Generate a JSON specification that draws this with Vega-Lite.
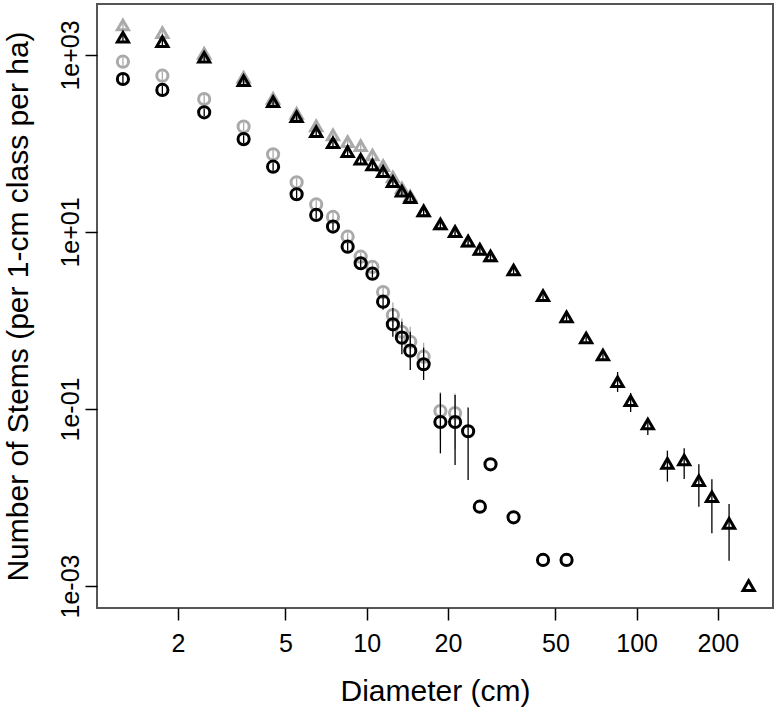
{
  "$schema": "https://vega.github.io/schema/vega-lite/v6.json",
  "width": 676,
  "height": 604,
  "autosize": {"type": "none"},
  "padding": {"left": 97, "top": 4, "right": 5, "bottom": 102},
  "background": "white",
  "config": {
    "view": {"stroke": "#555555", "strokeWidth": 2},
    "font": "Liberation Sans"
  },
  "datasets": {
    "stems": [
      {"d": 1.25, "n": 2183, "lo": 1970, "hi": 2420, "s": "gt"},
      {"d": 1.75, "n": 1786, "lo": 1610, "hi": 1980, "s": "gt"},
      {"d": 2.5, "n": 1045, "lo": 943, "hi": 1158, "s": "gt"},
      {"d": 3.5, "n": 560, "lo": 505, "hi": 620, "s": "gt"},
      {"d": 4.5, "n": 324, "lo": 292, "hi": 359, "s": "gt"},
      {"d": 5.5, "n": 219, "lo": 198, "hi": 243, "s": "gt"},
      {"d": 6.5, "n": 158, "lo": 143, "hi": 175, "s": "gt"},
      {"d": 7.5, "n": 125, "lo": 113, "hi": 139, "s": "gt"},
      {"d": 8.5, "n": 105, "lo": 95, "hi": 116, "s": "gt"},
      {"d": 9.5, "n": 94.4, "lo": 85.2, "hi": 104.6, "s": "gt"},
      {"d": 10.5, "n": 74.1, "lo": 66.9, "hi": 82.1, "s": "gt"},
      {"d": 11.5, "n": 56.1, "lo": 50.6, "hi": 62.2, "s": "gt"},
      {"d": 12.5, "n": 41.8, "lo": 37.7, "hi": 46.3, "s": "gt"},
      {"d": 13.5, "n": 31.4, "lo": 28.3, "hi": 34.8, "s": "gt"},
      {"d": 14.5, "n": 25.5, "lo": 23.0, "hi": 28.3, "s": "gt"},
      {"d": 16.25, "n": 17.3, "lo": 15.6, "hi": 19.2, "s": "gt"},
      {"d": 18.75, "n": 12.3, "lo": 11.1, "hi": 13.6, "s": "gt"},
      {"d": 21.25, "n": 10.1, "lo": 9.1, "hi": 11.2, "s": "gt"},
      {"d": 23.75, "n": 7.9, "lo": 7.1, "hi": 8.8, "s": "gt"},
      {"d": 26.25, "n": 6.37, "lo": 5.7, "hi": 7.1, "s": "gt"},
      {"d": 28.75, "n": 5.35, "lo": 4.8, "hi": 5.9, "s": "gt"},

      {"d": 1.25, "n": 1585, "lo": 1430, "hi": 1750, "s": "bt"},
      {"d": 1.75, "n": 1413, "lo": 1275, "hi": 1565, "s": "bt"},
      {"d": 2.5, "n": 942, "lo": 850, "hi": 1045, "s": "bt"},
      {"d": 3.5, "n": 513, "lo": 463, "hi": 568, "s": "bt"},
      {"d": 4.5, "n": 297, "lo": 268, "hi": 329, "s": "bt"},
      {"d": 5.5, "n": 201, "lo": 181, "hi": 223, "s": "bt"},
      {"d": 6.5, "n": 136, "lo": 123, "hi": 151, "s": "bt"},
      {"d": 7.5, "n": 102, "lo": 92, "hi": 113, "s": "bt"},
      {"d": 8.5, "n": 80.8, "lo": 72.9, "hi": 89.5, "s": "bt"},
      {"d": 9.5, "n": 66.3, "lo": 59.8, "hi": 73.5, "s": "bt"},
      {"d": 10.5, "n": 57.1, "lo": 51.5, "hi": 63.3, "s": "bt"},
      {"d": 11.5, "n": 48.0, "lo": 43.3, "hi": 53.2, "s": "bt"},
      {"d": 12.5, "n": 37.0, "lo": 33.4, "hi": 41.0, "s": "bt"},
      {"d": 13.5, "n": 29.0, "lo": 26.2, "hi": 32.1, "s": "bt"},
      {"d": 14.5, "n": 24.4, "lo": 22.0, "hi": 27.0, "s": "bt"},
      {"d": 16.25, "n": 17.3, "lo": 15.6, "hi": 19.2, "s": "bt"},
      {"d": 18.75, "n": 12.3, "lo": 11.1, "hi": 13.6, "s": "bt"},
      {"d": 21.25, "n": 10.1, "lo": 9.1, "hi": 11.2, "s": "bt"},
      {"d": 23.75, "n": 7.9, "lo": 7.1, "hi": 8.8, "s": "bt"},
      {"d": 26.25, "n": 6.37, "lo": 5.7, "hi": 7.1, "s": "bt"},
      {"d": 28.75, "n": 5.35, "lo": 4.8, "hi": 5.9, "s": "bt"},
      {"d": 35, "n": 3.72, "lo": 3.36, "hi": 4.12, "s": "bt"},
      {"d": 45, "n": 1.91, "lo": 1.72, "hi": 2.12, "s": "bt"},
      {"d": 55, "n": 1.10, "lo": 0.99, "hi": 1.22, "s": "bt"},
      {"d": 65, "n": 0.634, "lo": 0.57, "hi": 0.70, "s": "bt"},
      {"d": 75, "n": 0.407, "lo": 0.36, "hi": 0.45, "s": "bt"},
      {"d": 85, "n": 0.203, "lo": 0.156, "hi": 0.262, "s": "bt"},
      {"d": 95, "n": 0.124, "lo": 0.0925, "hi": 0.152, "s": "bt"},
      {"d": 110, "n": 0.0677, "lo": 0.0508, "hi": 0.079, "s": "bt"},
      {"d": 130, "n": 0.0243, "lo": 0.0151, "hi": 0.0338, "s": "bt"},
      {"d": 150, "n": 0.0265, "lo": 0.0162, "hi": 0.036, "s": "bt"},
      {"d": 170, "n": 0.0155, "lo": 0.00787, "hi": 0.0237, "s": "bt"},
      {"d": 190, "n": 0.0102, "lo": 0.00394, "hi": 0.0161, "s": "bt"},
      {"d": 220, "n": 0.0051, "lo": 0.00193, "hi": 0.00845, "s": "bt"},
      {"d": 260, "n": 0.00101, "lo": null, "hi": null, "s": "bt"},

      {"d": 1.25, "n": 840, "lo": 758, "hi": 931, "s": "gc"},
      {"d": 1.75, "n": 584, "lo": 527, "hi": 647, "s": "gc"},
      {"d": 2.5, "n": 318, "lo": 287, "hi": 352, "s": "gc"},
      {"d": 3.5, "n": 155, "lo": 140, "hi": 172, "s": "gc"},
      {"d": 4.5, "n": 75.5, "lo": 68.1, "hi": 83.7, "s": "gc"},
      {"d": 5.5, "n": 36.4, "lo": 32.8, "hi": 40.3, "s": "gc"},
      {"d": 6.5, "n": 20.5, "lo": 18.5, "hi": 22.7, "s": "gc"},
      {"d": 7.5, "n": 14.8, "lo": 13.4, "hi": 16.4, "s": "gc"},
      {"d": 8.5, "n": 8.85, "lo": 7.98, "hi": 9.81, "s": "gc"},
      {"d": 9.5, "n": 5.26, "lo": 4.75, "hi": 5.83, "s": "gc"},
      {"d": 10.5, "n": 4.03, "lo": 3.64, "hi": 4.47, "s": "gc"},
      {"d": 11.5, "n": 2.10, "lo": 1.75, "hi": 2.45, "s": "gc"},
      {"d": 12.5, "n": 1.15, "lo": 0.85, "hi": 1.6, "s": "gc"},
      {"d": 13.5, "n": 0.746, "lo": 0.5, "hi": 1.05, "s": "gc"},
      {"d": 14.5, "n": 0.575, "lo": 0.36, "hi": 0.85, "s": "gc"},
      {"d": 16.25, "n": 0.390, "lo": 0.27, "hi": 0.56, "s": "gc"},
      {"d": 18.75, "n": 0.0948, "lo": 0.045, "hi": 0.155, "s": "gc"},
      {"d": 21.25, "n": 0.090, "lo": 0.035, "hi": 0.15, "s": "gc"},

      {"d": 1.25, "n": 535, "lo": 482, "hi": 593, "s": "bc"},
      {"d": 1.75, "n": 403, "lo": 363, "hi": 447, "s": "bc"},
      {"d": 2.5, "n": 225, "lo": 203, "hi": 249, "s": "bc"},
      {"d": 3.5, "n": 112, "lo": 101, "hi": 124, "s": "bc"},
      {"d": 4.5, "n": 54.7, "lo": 49.3, "hi": 60.6, "s": "bc"},
      {"d": 5.5, "n": 26.7, "lo": 24.1, "hi": 29.6, "s": "bc"},
      {"d": 6.5, "n": 15.6, "lo": 14.1, "hi": 17.3, "s": "bc"},
      {"d": 7.5, "n": 11.5, "lo": 10.4, "hi": 12.7, "s": "bc"},
      {"d": 8.5, "n": 6.82, "lo": 6.15, "hi": 7.56, "s": "bc"},
      {"d": 9.5, "n": 4.43, "lo": 4.0, "hi": 4.9, "s": "bc"},
      {"d": 10.5, "n": 3.38, "lo": 3.05, "hi": 3.75, "s": "bc"},
      {"d": 11.5, "n": 1.63, "lo": 1.32, "hi": 1.94, "s": "bc"},
      {"d": 12.5, "n": 0.905, "lo": 0.656, "hi": 1.38, "s": "bc"},
      {"d": 13.5, "n": 0.640, "lo": 0.415, "hi": 0.969, "s": "bc"},
      {"d": 14.5, "n": 0.456, "lo": 0.276, "hi": 0.746, "s": "bc"},
      {"d": 16.25, "n": 0.320, "lo": 0.213, "hi": 0.493, "s": "bc"},
      {"d": 18.75, "n": 0.0713, "lo": 0.0315, "hi": 0.150, "s": "bc"},
      {"d": 21.25, "n": 0.0713, "lo": 0.0233, "hi": 0.144, "s": "bc"},
      {"d": 23.75, "n": 0.056, "lo": 0.0158, "hi": 0.104, "s": "bc"},
      {"d": 26.25, "n": 0.00787, "lo": null, "hi": null, "s": "bc"},
      {"d": 28.75, "n": 0.0237, "lo": null, "hi": null, "s": "bc"},
      {"d": 35, "n": 0.00597, "lo": null, "hi": null, "s": "bc"},
      {"d": 45, "n": 0.00197, "lo": null, "hi": null, "s": "bc"},
      {"d": 55, "n": 0.00197, "lo": null, "hi": null, "s": "bc"}
    ]
  },
  "data": {"name": "stems"},
  "encoding": {
    "x": {
      "field": "d", "type": "quantitative",
      "scale": {"type": "log", "domain": [1.002, 320], "nice": false, "zero": false},
      "axis": {
        "values": [2, 5, 10, 20, 50, 100, 200], "format": "d",
        "title": "Diameter (cm)", "grid": false, "domain": false,
        "tickColor": "black", "tickSize": 12, "tickWidth": 1.5,
        "labelFont": "Liberation Sans", "labelFontSize": 25, "labelColor": "black",
        "labelBaseline": "alphabetic", "labelPadding": 31, "labelAlign": "center",
        "labelFlush": false, "labelOverlap": false,
        "titleFont": "Liberation Sans", "titleFontSize": 30, "titleFontWeight": "normal",
        "titleColor": "black", "titleBaseline": "alphabetic", "titleX": 338, "titleY": 92, "titleAlign": "center"
      }
    },
    "y": {
      "field": "n", "type": "quantitative",
      "scale": {"type": "log", "domain": [0.000564, 3767], "nice": false, "zero": false},
      "axis": {
        "values": [0.001, 0.1, 10, 1000],
        "labelExpr": "datum.value >= 999 ? '1e+03' : datum.value >= 9 ? '1e+01' : datum.value >= 0.09 ? '1e-01' : '1e-03'",
        "title": "Number of Stems (per 1-cm class per ha)", "grid": false, "domain": false,
        "tickColor": "black", "tickSize": 12, "tickWidth": 1.5,
        "labelFont": "Liberation Sans", "labelFontSize": 25, "labelColor": "black",
        "labelAngle": 270, "labelAlign": "center", "labelBaseline": "alphabetic", "labelPadding": 7,
        "labelFlush": false, "labelOverlap": false,
        "titleFont": "Liberation Sans", "titleFontSize": 30, "titleFontWeight": "normal",
        "titleColor": "black", "titleAngle": 270, "titleBaseline": "alphabetic", "titleAlign": "center",
        "titleX": -70, "titleY": 302
      }
    }
  },
  "layer": [
    {
      "transform": [{"filter": "(datum.s == 'gt' || datum.s == 'gc') && datum.lo != null"}],
      "mark": {"type": "rule", "color": "#aaaaaa", "strokeWidth": 1.3},
      "encoding": {"y": {"field": "lo", "type": "quantitative"}, "y2": {"field": "hi"}}
    },
    {
      "transform": [{"filter": "datum.s == 'gt' || datum.s == 'gc'"}],
      "mark": {"type": "point", "filled": false, "strokeWidth": 3, "opacity": 1},
      "encoding": {
        "shape": {"field": "s", "type": "nominal", "scale": {"domain": ["gt", "bt", "gc", "bc"], "range": ["triangle-up", "triangle-up", "circle", "circle"]}, "legend": null},
        "color": {"field": "s", "type": "nominal", "scale": {"domain": ["gt", "bt", "gc", "bc"], "range": ["#aaaaaa", "#000000", "#aaaaaa", "#000000"]}, "legend": null},
        "size": {"field": "s", "type": "nominal", "scale": {"domain": ["gt", "bt", "gc", "bc"], "range": [125, 125, 82, 82]}, "legend": null}
      }
    },
    {
      "transform": [{"filter": "(datum.s == 'bt' || datum.s == 'bc') && datum.lo != null"}],
      "mark": {"type": "rule", "color": "#000000", "strokeWidth": 1.3},
      "encoding": {"y": {"field": "lo", "type": "quantitative"}, "y2": {"field": "hi"}}
    },
    {
      "transform": [{"filter": "datum.s == 'bt' || datum.s == 'bc'"}],
      "mark": {"type": "point", "filled": false, "strokeWidth": 3, "opacity": 1},
      "encoding": {
        "shape": {"field": "s", "type": "nominal", "scale": {"domain": ["gt", "bt", "gc", "bc"], "range": ["triangle-up", "triangle-up", "circle", "circle"]}, "legend": null},
        "color": {"field": "s", "type": "nominal", "scale": {"domain": ["gt", "bt", "gc", "bc"], "range": ["#aaaaaa", "#000000", "#aaaaaa", "#000000"]}, "legend": null},
        "size": {"field": "s", "type": "nominal", "scale": {"domain": ["gt", "bt", "gc", "bc"], "range": [125, 125, 82, 82]}, "legend": null}
      }
    }
  ]
}
